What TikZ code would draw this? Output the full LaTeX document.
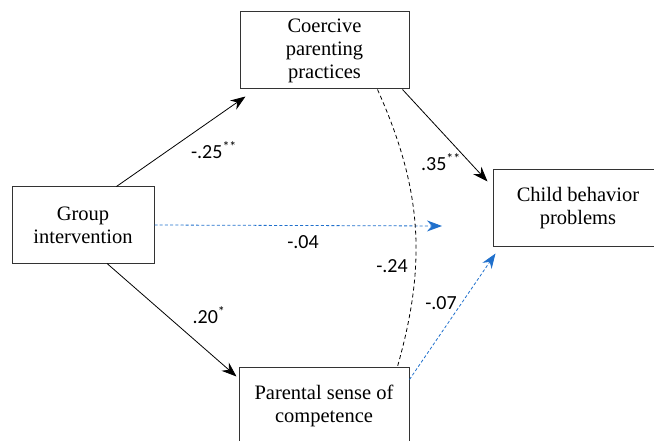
\documentclass[tikz,border=0pt]{standalone}
\usepackage{fontspec}
\setmainfont{Liberation Serif}
\newfontfamily\labelfont{Carlito}
\usetikzlibrary{positioning, calc, arrows.meta}
\definecolor{pathblue}{RGB}{32,112,204}

\begin{document}
\begin{tikzpicture}[x=1pt, y=-1pt,
  box/.style={draw=black!80, line width=1pt, align=center, inner sep=0pt,
    font=\fontsize{20.5}{23}\selectfont},
  path/.style={line width=0.8pt, -{Stealth[length=15pt, width=11pt]}},
  nspath/.style={path, pathblue, dash pattern=on 3pt off 2.2pt},
  coef/.style={font=\labelfont\fontsize{20}{22}\selectfont, inner sep=0pt}]
\useasboundingbox (0,0) rectangle (654,441);
\clip (0,0) rectangle (654,441);
\node[box, minimum width=169pt, minimum height=77pt] (cpp) at (324.5,50.5) {Coercive\\parenting\\practices};
\node[box, minimum width=142pt, minimum height=76pt] (gi) at (83,225) {Group\\intervention};
\node[box, minimum width=170pt, minimum height=77pt] (cbp) at (578,208.5) {Child behavior\\problems};
\node[box, minimum width=170pt, minimum height=78pt] (psc) at (324,406) {Parental sense of\\competence};
\coordinate (direct) at (442,226);
\draw[path] (gi.49) -- ($(cpp.south west)+(6,7)$);
\draw[path] (gi.-58) -- ($(psc.north west)+(-2,10)$);
\draw[path] ($(cpp.south east)+(-7,0)$) -- ($(cbp.north west)+(-5,12)$);
\draw[nspath] (gi.east) -- (direct);
\draw[nspath] ($(psc.north east)+(0,13)$) -- ($(cbp.south west)+(3,6)$);
\draw[line width=0.8pt, dash pattern=on 4pt off 3pt] ($(cpp.south east)+(-32,0)$) to[bend left=20] ($(psc.north east)+(-12,0)$);
\node[coef] (a1) at (214,150) {-.25\textsuperscript{**}};
\node[coef] (a2) at (209,315) {.20\textsuperscript{*}};
\node[coef] (b1) at (441,162) {.35\textsuperscript{**}};
\node[coef] (c1) at (303,242) {-.04};
\node[coef] (d1) at (392,266) {-.24};
\node[coef] (e1) at (441,303) {-.07};
\end{tikzpicture}
\end{document}
